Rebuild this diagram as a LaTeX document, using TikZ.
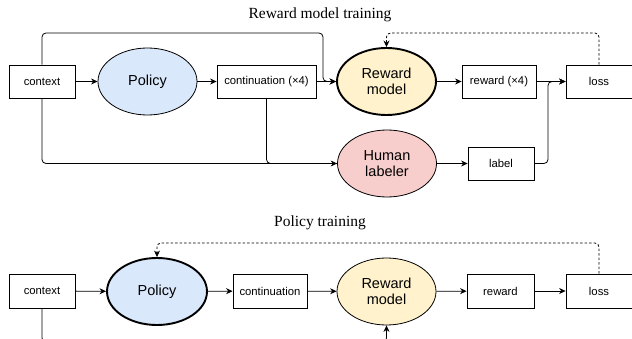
\documentclass[tikz,border=0pt]{standalone}
\usepackage{fontspec}
\setmainfont{Liberation Serif}
\setsansfont{Liberation Sans}
\usetikzlibrary{shapes.geometric,arrows.meta}
\begin{document}
\begin{tikzpicture}[x=1pt,y=-1pt,
  box/.style={draw=black,line width=0.8pt,fill=white,rectangle,minimum height=33pt,inner sep=0pt,font=\sffamily\fontsize{11.3}{13}\selectfont},
  ell/.style={draw=black,line width=0.8pt,ellipse,minimum width=99pt,minimum height=67pt,inner sep=0pt,align=center,font=\sffamily\fontsize{14.5}{16.5}\selectfont},
  thickell/.style={ell,line width=1.9pt},
  conn/.style={line width=0.8pt,rounded corners=4pt,-{Stealth[length=6.5pt,width=6pt]}},
  plain/.style={line width=0.8pt,rounded corners=4pt},
  fb/.style={conn,dash pattern=on 2.5pt off 2pt},
  title/.style={font=\fontsize{15.5}{18}\selectfont}
]
\definecolor{pblue}{HTML}{DAE8FC}
\definecolor{ryel}{HTML}{FFF2CC}
\definecolor{hred}{HTML}{F8CECC}
\useasboundingbox (0,0) rectangle (632,339);
\clip (0,0) rectangle (632,339);

% ---------- Reward model training ----------
\node[title] (t1) at (320,15) {Reward model training};
\node[box,minimum width=66pt] (ctx1) at (42,81.5) {context};
\node[ell,fill=pblue] (pol1) at (147.5,81.5) {Policy};
\node[box,minimum width=99pt] (cont1) at (266.5,81.5) {continuation (×4)};
\node[thickell,fill=ryel] (rm1) at (386.5,81.5) {Reward\\model};
\node[box,minimum width=74pt] (rew1) at (499,81.5) {reward (×4)};
\node[box,minimum width=66pt] (loss1) at (599,81.5) {loss};
\node[ell,fill=hred] (hl1) at (387,163.5) {Human\\labeler};
\node[box,minimum width=66pt] (lab1) at (501,163.5) {label};

\draw[conn] (ctx1) -- (pol1);
\draw[conn] (pol1) -- (cont1);
\draw[conn] (cont1) -- (rm1);
\draw[conn] (ctx1.north) -- (ctx1.north |- 0,33) -- (323,33) -- (323,81.5) -- (rm1.west);
\draw[conn] (ctx1.south) -- (ctx1.south |- hl1.west) -- (hl1.west);
\draw[plain] (cont1.south) -- (cont1.south |- hl1.west) -- (hl1.west);
\draw[conn] (hl1) -- (lab1);
\draw[conn] (rm1) -- (rew1);
\draw[conn] (rew1) -- (loss1);
\draw[conn] (lab1.east) -- (548,163.5) -- (548,81.5) -- (loss1.west);
\draw[fb] (loss1.north) -- (loss1.north |- 0,33) -- (rm1.north |- 0,33) -- (rm1.north);

% ---------- Policy training ----------
\node[title] (t2) at (320,223) {Policy training};
\node[box,minimum width=66pt,minimum height=34pt] (ctx2) at (42,291) {context};
\node[thickell,fill=pblue,minimum width=100pt] (pol2) at (157,291.5) {Policy};
\node[box,minimum width=74pt,minimum height=34pt] (cont2) at (270,291) {continuation};
\node[ell,fill=ryel] (rm2) at (386.5,291.5) {Reward\\model};
\node[box,minimum width=67pt,minimum height=34pt] (rew2) at (500.5,291) {reward};
\node[box,minimum width=66pt,minimum height=34pt] (loss2) at (599,291) {loss};

\draw[conn] (ctx2) -- (pol2);
\draw[conn] (pol2) -- (cont2);
\draw[conn] (cont2) -- (rm2);
\draw[conn] (rm2) -- (rew2);
\draw[conn] (rew2) -- (loss2);
\draw[fb] (loss2.north) -- (loss2.north |- 0,243) -- (pol2.north |- 0,243) -- (pol2.north);
\draw[conn] (ctx2.south) -- (ctx2.south |- 0,342) -- (rm2.south |- 0,342) -- (rm2.south);
\end{tikzpicture}
\end{document}
